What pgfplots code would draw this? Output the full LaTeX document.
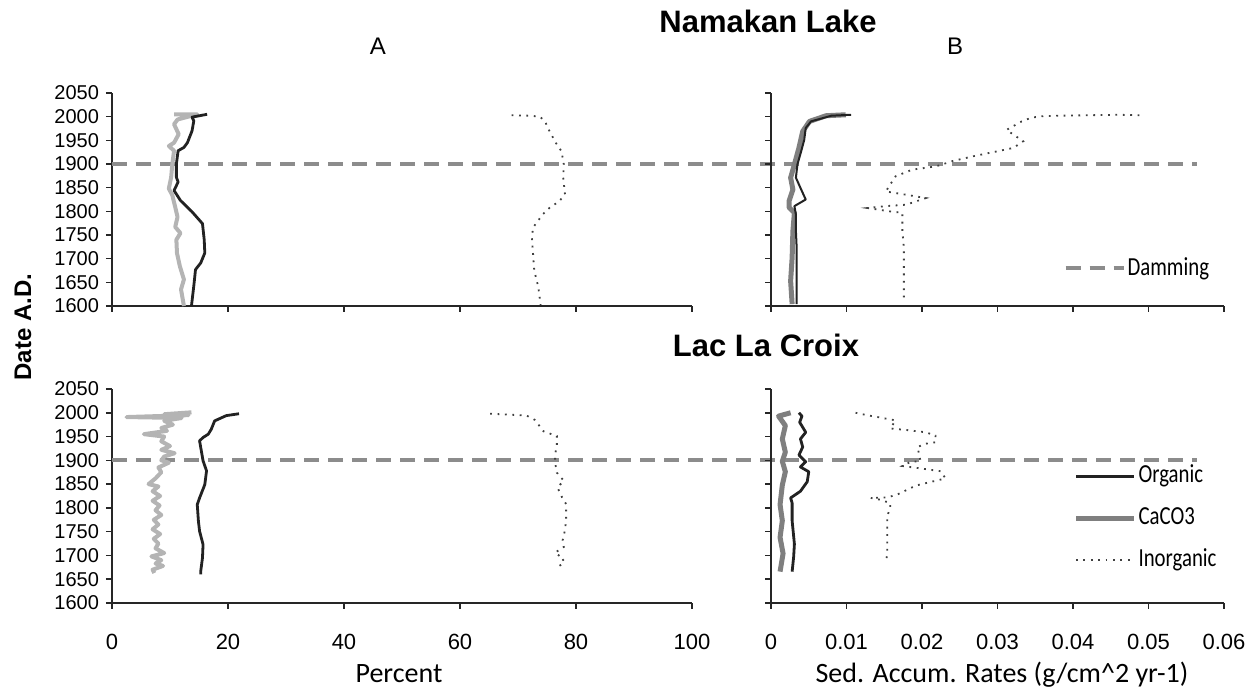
\documentclass[border=0pt]{standalone}
\usepackage{pgfplots}
\pgfplotsset{compat=1.18}
\usepackage{fontspec}
\setmainfont{Liberation Sans}
\newfontfamily\calib{Carlito}
\newfontfamily\legfont{Carlito}[FakeStretch=0.8]

\definecolor{orgc}{HTML}{222222}
\definecolor{caclight}{HTML}{B4B4B4}
\definecolor{cacdark}{HTML}{7F7F7F}
\definecolor{dam}{HTML}{8C8C8C}

\pgfplotsset{
  panel/.style={
    scale only axis,
    axis x line*=bottom, axis y line*=left,
    ymin=1600, ymax=2050,
    ytick={1600,1650,...,2050},
    tick align=outside,
    major tick length=3pt,
    axis line style={line width=1pt, black!85},
    every tick/.append style={line width=0.8pt, black!85},
    yticklabel style={font=\fontsize{10}{12}\selectfont},
    xticklabel style={font=\fontsize{11}{13}\selectfont, yshift=-9pt},
    /pgf/number format/assume math mode=true,
    /pgf/number format/1000 sep={},
    clip=false,
  },
  organic/.style={orgc, line width=1.4pt, line join=round},
  inorg/.style={black!75, line width=0.9pt, dash pattern=on 0.9pt off 2.8pt},
  damming/.style={dam, line width=2pt, dash pattern=on 7.5pt off 4.5pt},
  legend image code/.code={\draw[#1] (0pt,0pt) -- (29pt,0pt);},
}

\begin{document}
\begin{tikzpicture}
\useasboundingbox (0,0) rectangle (627.5pt,345.5pt);

% ---- Namakan Lake, percent ----
\begin{axis}[panel, at={(56pt,192.5pt)}, anchor=south west,
  width=290pt, height=106.5pt,
  xmin=0, xmax=100, xtick={0,20,...,100}, xticklabels={}]
\addplot[damming] coordinates {(0,1900) (187,1900)};
\addplot[caclight, line width=2pt, line join=round] coordinates {
(10.7,2005) (14.7,2005) (11.3,1994) (10.7,1984) (11.5,1963) (10.7,1945)
(9.8,1938) (10.7,1928) (10.4,1900) (10.2,1872) (9.8,1848) (10.4,1834)
(10.9,1809) (11.3,1788) (10.9,1767) (11.8,1754) (11.1,1740) (11.2,1712)
(11.7,1684) (12.4,1656) (11.9,1635) (12.4,1600)};
\addplot[organic] coordinates {
(16.4,2005) (13.8,1999) (14.1,1991) (13.8,1970) (13.0,1945) (12.4,1935)
(11.4,1928) (11.1,1900) (11.1,1872) (11.4,1862) (10.7,1844) (11.8,1823)
(13.8,1799) (15.6,1774) (15.9,1740) (16.0,1712) (15.3,1691) (14.4,1677)
(14.1,1642) (13.7,1600)};
\addplot[inorg] coordinates {
(68.9,2003) (72.1,2002) (73.8,2000) (74.7,1989) (75.4,1970) (76.7,1941)
(77.5,1927) (77.9,1899) (77.8,1871) (78.1,1836) (77.1,1821) (75.5,1808)
(74.3,1794) (72.6,1766) (72.4,1745) (72.6,1710) (72.8,1675) (73.5,1640)
(73.9,1602)};
\end{axis}

% ---- Namakan Lake, rates ----
\begin{axis}[panel, at={(385.5pt,192.5pt)}, anchor=south west,
  width=226.5pt, height=106.5pt,
  xmin=0, xmax=0.06, xtick={0,0.01,0.02,0.03,0.04,0.05,0.06},
  xticklabels={}, yticklabels={}, scaled x ticks=false,
  legend style={at={(0.645,0.178)}, anchor=west, draw=none, fill=none,
    inner sep=0pt, font=\legfont\fontsize{13}{15}\selectfont,
    nodes={inner sep=1pt}}]
\addplot[cacdark, line width=2.5pt, line join=round, forget plot] coordinates {
(0.0099,2004) (0.0073,2002) (0.0051,1990) (0.0042,1969) (0.0037,1934)
(0.0031,1899) (0.0026,1871) (0.0029,1846) (0.0024,1822) (0.0024,1808)
(0.0031,1797) (0.0029,1758) (0.0028,1702) (0.0026,1653) (0.0028,1604)};
\addplot[organic, line width=1pt, forget plot] coordinates {
(0.0106,2004) (0.0080,2002) (0.0053,1990) (0.0046,1976) (0.0044,1951)
(0.0040,1927) (0.0035,1899) (0.0033,1871) (0.0040,1846) (0.0046,1825)
(0.0031,1811) (0.0033,1793) (0.0033,1758) (0.0034,1723) (0.0034,1681)
(0.0034,1604)};
\addplot[inorg, forget plot] coordinates {
(0.0488,2003) (0.0460,2004) (0.0420,2003) (0.0380,2002) (0.0360,2001)
(0.0345,1998) (0.0332,1990) (0.0312,1972) (0.0334,1948) (0.0321,1934)
(0.0294,1925) (0.0267,1916) (0.0240,1906) (0.0223,1897) (0.0210,1893)
(0.0187,1888) (0.0165,1874) (0.0152,1842) (0.0179,1835) (0.0205,1828)
(0.0179,1814) (0.0152,1811) (0.0128,1807) (0.0157,1800) (0.0174,1797)
(0.0174,1758) (0.0176,1723) (0.0176,1681) (0.0176,1611)};
\addlegendimage{damming}
\addlegendentry{Damming}
\end{axis}

% ---- Lac La Croix, percent ----
\begin{axis}[panel, at={(56pt,44pt)}, anchor=south west,
  width=290pt, height=107pt,
  xmin=0, xmax=100, xtick={0,20,...,100}]
\addplot[damming] coordinates {(0,1900) (187,1900)};
\addplot[caclight, line width=2pt, line join=round] coordinates {
(13.7,2001) (9.0,1997) (13.2,1995) (2.5,1991) (12.0,1989) (9.0,1983)
(10.5,1975) (8.5,1968) (9.5,1962) (5.5,1955) (9.0,1950) (8.5,1940)
(10.0,1930) (8.5,1922) (10.8,1915) (9.0,1908) (8.5,1900) (9.8,1895)
(8.0,1885) (8.5,1875) (7.5,1862) (6.3,1850) (8.0,1845) (7.0,1835)
(8.3,1825) (7.0,1815) (8.2,1805) (7.5,1795) (8.5,1785) (7.2,1775)
(8.0,1765) (7.0,1755) (8.3,1745) (7.2,1735) (8.0,1725) (7.5,1715)
(9.0,1705) (6.8,1698) (8.5,1690) (7.5,1683) (8.8,1678) (7.0,1670)
(7.3,1663)};
\addplot[organic] coordinates {
(21.9,1998) (19.7,1994) (17.7,1983) (17.1,1965) (16.6,1955) (15.7,1948)
(15.1,1941) (15.4,1920) (15.7,1899) (16.3,1878) (16.0,1849) (15.1,1821)
(14.7,1807) (14.9,1772) (15.1,1751) (15.7,1723) (15.6,1695) (15.3,1667)
(15.3,1660)};
\addplot[inorg] coordinates {
(65.2,1998) (68.6,1996) (71.5,1994) (72.9,1985) (74.4,1961) (76.7,1951)
(76.7,1930) (76.4,1913) (76.4,1895) (76.7,1874) (77.9,1857) (76.8,1843)
(77.6,1822) (78.3,1808) (78.3,1774) (78.1,1753) (77.7,1732) (77.9,1718)
(76.4,1706) (77.9,1692) (77.1,1683) (77.9,1668)};
\end{axis}

% ---- Lac La Croix, rates ----
\begin{axis}[panel, at={(385.5pt,44pt)}, anchor=south west,
  width=226.5pt, height=107pt,
  xmin=0, xmax=0.06, xtick={0,0.01,0.02,0.03,0.04,0.05,0.06},
  xticklabels={0,0.01,0.02,0.03,0.04,0.05,0.06},
  yticklabels={}, scaled x ticks=false,
  legend style={at={(0.667,0.66)}, anchor=north west, draw=none, fill=none,
    inner sep=0pt, row sep=7pt, font=\legfont\fontsize{13}{15}\selectfont,
    nodes={inner sep=1pt, text height=9pt, text depth=3pt}},
  legend cell align=left]
\addplot[organic] coordinates {
(0.0037,2000) (0.0041,1993) (0.0038,1980) (0.0046,1959) (0.0039,1945)
(0.0042,1928) (0.0037,1911) (0.0046,1897) (0.0039,1886) (0.0050,1876)
(0.0048,1855) (0.0039,1835) (0.0026,1821) (0.0028,1810) (0.0028,1773)
(0.0031,1724) (0.0030,1697) (0.0028,1666)};
\addlegendentry{Organic}
\addplot[cacdark, line width=2.5pt, line join=round] coordinates {
(0.0026,2000) (0.0010,1993) (0.0019,1973) (0.0015,1945) (0.0019,1917)
(0.0015,1898) (0.0019,1876) (0.0015,1848) (0.0012,1807) (0.0015,1773)
(0.0012,1738) (0.0016,1704) (0.0012,1666)};
\addlegendentry{CaCO3}
\addplot[inorg] coordinates {
(0.0112,2000) (0.0127,1995) (0.0141,1991) (0.0165,1984) (0.0158,1967)
(0.0178,1964) (0.0205,1959) (0.0218,1952) (0.0218,1938) (0.0205,1935)
(0.0194,1928) (0.0196,1914) (0.0198,1898) (0.0185,1897) (0.0174,1888)
(0.0198,1883) (0.0225,1877) (0.0231,1862) (0.0218,1857) (0.0205,1852)
(0.0192,1847) (0.0167,1828) (0.0154,1822) (0.0132,1821) (0.0145,1817)
(0.0158,1810) (0.0158,1800) (0.0154,1783) (0.0154,1745) (0.0154,1704)
(0.0152,1683)};
\addlegendentry{Inorganic}
\end{axis}

\node[font=\bfseries\fontsize{15.5}{18}\selectfont, anchor=base] at (384pt,329pt) {Namakan Lake};
\node[font=\fontsize{12}{14}\selectfont, anchor=base] at (189pt,318pt) {A};
\node[font=\fontsize{12}{14}\selectfont, anchor=base] at (477.5pt,318pt) {B};
\node[font=\bfseries\fontsize{15.5}{18}\selectfont, anchor=base] at (383pt,167pt) {Lac La Croix};
\node[font=\bfseries\fontsize{12}{14}\selectfont, rotate=90] at (11.5pt,182pt) {Date A.D.};
\node[font=\calib\fontsize{14}{16}\selectfont, anchor=base] at (199.5pt,4pt) {Percent};
\node[font=\calib\fontsize{14}{16}\selectfont, anchor=base] at (501pt,4pt) {Sed. Accum. Rates (g/cm\textasciicircum 2 yr-1)};
\end{tikzpicture}
\end{document}
